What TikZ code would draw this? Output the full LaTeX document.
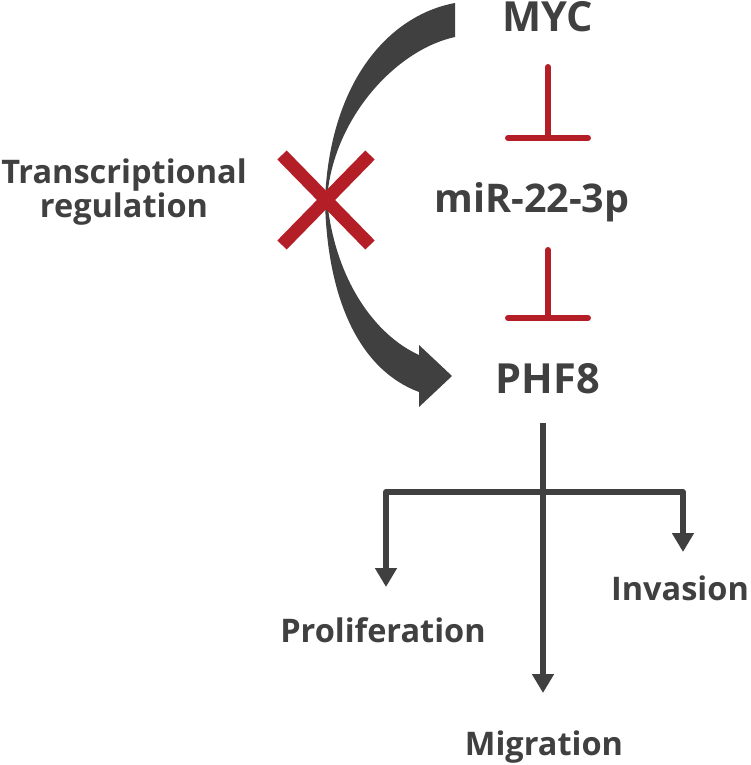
\documentclass[tikz,border=0pt]{standalone}
\usepackage{fontspec}
\setmainfont{Open Sans}
\usetikzlibrary{arrows.meta}
\definecolor{ink}{HTML}{404040}
\definecolor{blockred}{HTML}{B41F27}
\begin{document}
\begin{tikzpicture}[x=1pt,y=-1pt,
    gene/.style={font=\bfseries\fontsize{41.5}{41.5}\selectfont,text=ink,inner sep=0pt,anchor=base},
    lbl/.style={font=\bfseries\fontsize{32.5}{30}\selectfont,text=ink,inner sep=0pt,anchor=base,align=center},
    inhib/.style={draw=blockred,line width=6pt,line cap=round},
    flow/.style={draw=ink,line width=6pt,line join=round,-{Triangle[width=21pt,length=19pt]}}]
        \useasboundingbox[fill=white] (0,0) rectangle (750,765);
        %% Genes
        \node[gene] (myc) at (548,32) {MYC};
        \node[gene,font=\bfseries\fontsize{39.5}{39.5}\selectfont] (mir) at (532,212) {miR-22-3p};
        \node[gene] (phf) at (548,393) {PHF8};
        \node[lbl] (trans) at (124,217) {Transcriptional\\regulation};
        %% Outcomes
        \node[lbl] (prolif) at (383,642) {Proliferation};
        \node[lbl] (invas) at (680,600) {Invasion};
        \node[lbl] (migr) at (544,755) {Migration};
        %% Curved arrow MYC -> PHF8
        \fill[ink] (455,3) .. controls (390,15) and (330,80) .. (325,200)
            .. controls (327,300) and (360,370) .. (419,392)
            -- (419,407) -- (452,376) -- (419,345) -- (419,355)
            .. controls (375,335) and (335,280) .. (327,200)
            .. controls (332,120) and (395,50) .. (455,37) -- cycle;
        %% Blocked
        \draw[draw=blockred,line width=13pt] (282,155) -- (370,245) (282,245) -- (370,155);
        %% Inhibition
        \coordinate (b1s) at (548,67);
        \coordinate (b1e) at (548,138);
        \coordinate (b2s) at (548,250);
        \coordinate (b2e) at (548,318);
        \draw[inhib] (b1s) -- (b1e);
        \draw[inhib] ([xshift=-40pt]b1e) -- ([xshift=40pt]b1e);
        \draw[inhib] (b2s) -- (b2e);
        \draw[inhib] ([xshift=-40pt]b2e) -- ([xshift=40pt]b2e);
        %% Branches
        \coordinate (stem) at (543,423);
        \coordinate (ltip) at (386,587);
        \coordinate (mtip) at (543,693);
        \coordinate (rtip) at (683,552);
        \draw[flow] (stem) -- (mtip);
        \draw[flow,{Triangle[width=21pt,length=19pt]}-{Triangle[width=21pt,length=19pt]}]
            (ltip) -- (386,492) -- (683,492) -- (rtip);
\end{tikzpicture}
\end{document}
